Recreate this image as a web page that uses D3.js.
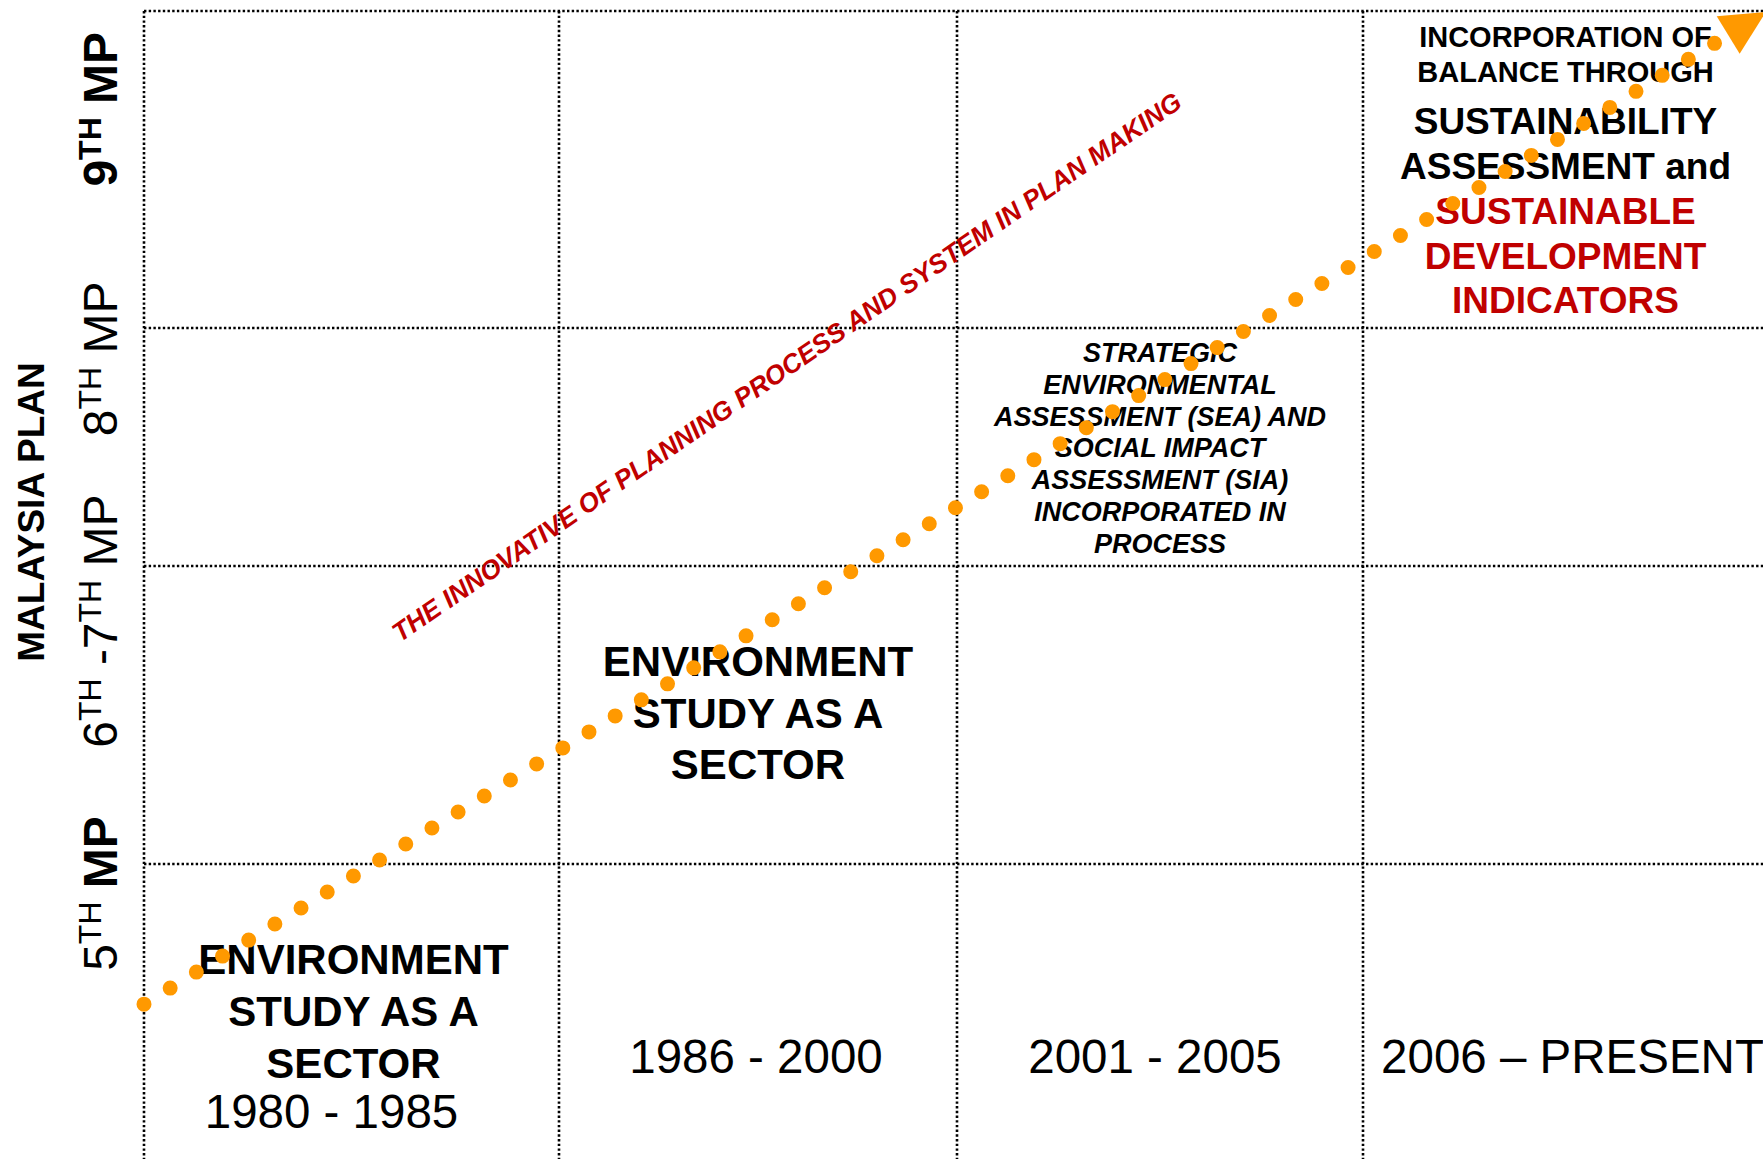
<!DOCTYPE html>
<html lang="en">
<head>
<meta charset="utf-8">
<title>Malaysia Plan - environment in plan making</title>
<script src="https://d3js.org/d3.v7.min.js"></script>
<style>
  body { margin: 0; background: #fff; }
  svg { display: block; font-family: "Liberation Sans", Arial, sans-serif; }
  .grid { stroke: #000; stroke-width: 2.6; stroke-dasharray: 2.4 2.3; fill: none; }
  .bold { font-weight: bold; }
</style>
</head>
<body>
<div id="chart"></div>
<script>
// periods (columns) and Malaysia plans (rows, bottom one first)
var periods = ['1980 - 1985', '1986 - 2000', '2001 - 2005', '2006 \u2013 PRESENT'];
var plans = [
  ['5', 'TH', ' MP'],
  ['6', 'TH', ' -7', 'TH', ' MP'],
  ['8', 'TH', ' MP'],
  ['9', 'TH', ' MP']
];
var sectorText = ['ENVIRONMENT', 'STUDY AS A', 'SECTOR'];
var seaText = ['STRATEGIC', 'ENVIRONMENTAL', 'ASSESSMENT (SEA) AND', 'SOCIAL IMPACT',
               'ASSESSMENT (SIA)', 'INCORPORATED IN', 'PROCESS'];
var balanceText = ['INCORPORATION OF', 'BALANCE THROUGH'];
var assessText = ['SUSTAINABILITY', 'ASSESSMENT and'];
var indicatorText = ['SUSTAINABLE', 'DEVELOPMENT', 'INDICATORS'];
var trendText = 'THE INNOVATIVE OF PLANNING PROCESS AND SYSTEM IN PLAN MAKING';
// progression arrow, start and end in column / row units
var trend = [{col: 0, row: 0.525}, {col: 3.868, row: 3.898}];

var width = 1763, height = 1159;
var red = '#c00000', orange = '#ff9900';

// uneven grid: polylinear scales over column / row index
var x = d3.scaleLinear().domain([0, 1, 2, 3, 4]).range([144, 559, 957, 1363, 1768]);
var y = d3.scaleLinear().domain([0, 1, 2, 3, 4]).range([1159, 864, 566, 328, 11]);

var svg = d3.select('#chart').append('svg')
    .attr('width', width)
    .attr('height', height);

// grid
svg.selectAll('.vline')
   .data(d3.range(periods.length))
   .enter().append('line')
   .attr('class', 'grid')
   .attr('x1', d => x(d)).attr('x2', d => x(d))
   .attr('y1', y(plans.length)).attr('y2', y(0));
svg.selectAll('.hline')
   .data(d3.range(1, plans.length + 1))
   .enter().append('line')
   .attr('class', 'grid')
   .attr('x1', x(0)).attr('x2', x(periods.length))
   .attr('y1', d => y(d)).attr('y2', d => y(d));

// left labels
svg.append('text')
   .attr('class', 'bold')
   .attr('transform', 'translate(44,512) rotate(-90)')
   .attr('text-anchor', 'middle')
   .style('font-size', '37px')
   .text('MALAYSIA PLAN');

var labelRow = [0.9, 1.815, 2.87, 3.69];   // label centres in row units
plans.forEach(function(parts, i){
    var t = svg.append('text')
       .attr('transform', 'translate(117,' + y(labelRow[i]) + ') rotate(-90)')
       .attr('text-anchor', 'middle')
       .style('font-size', '48px');
    parts.forEach(function(p, j){
        var sup = p === 'TH';
        var ts = t.append('tspan').text(p);
        if (sup) ts.style('font-size', '32px').attr('dy', -16);
        else if (j > 0) ts.attr('dy', 16);
        if (i === 3 || (i === 0 && j === 2)) ts.attr('class', 'bold');
    });
});

// helper for stacked centred lines
function block(lines, cx, y0, step, size, opts){
    opts = opts || {};
    svg.selectAll(null)
       .data(lines)
       .enter().append('text')
       .attr('x', cx)
       .attr('y', (d, i) => y0 + i * step)
       .attr('text-anchor', 'middle')
       .style('font-size', size + 'px')
       .style('font-weight', opts.weight || 'bold')
       .style('font-style', opts.style || 'normal')
       .attr('fill', opts.fill || '#000')
       .text(d => d);
}

block(sectorText, x(0.5) + 2, 974, 52, 42);
block(sectorText, x(1.5), 676, 51.5, 42);
block(seaText, x(2.5), 362, 31.8, 27, {style: 'italic'});
block(balanceText, x(3.5), 47, 35, 29);
block(assessText, x(3.5), 134, 44.5, 37);
block(indicatorText, x(3.5), 224, 44.5, 37, {fill: red});

// period labels
var periodDx = [-20, -2, -5, 7];
svg.selectAll('.period')
   .data(periods)
   .enter().append('text')
   .attr('class', 'period')
   .attr('x', (d, i) => x(i + 0.5) + periodDx[i])
   .attr('y', (d, i) => i === 0 ? 1128 : 1073)
   .attr('text-anchor', 'middle')
   .style('font-size', '47.5px')
   .text(d => d);

// diagonal caption
svg.append('text')
   .attr('transform', 'translate(' + x(1.585) + ',' + y(2.805) + ') rotate(-34.4)')
   .attr('text-anchor', 'middle')
   .style('font-size', '26.4px')
   .style('font-weight', 'bold')
   .style('font-style', 'italic')
   .attr('fill', red)
   .text(trendText);

// dotted progression line with arrow head
var p0 = [x(trend[0].col), y(trend[0].row)],
    p1 = [x(trend[1].col), y(trend[1].row)];
var len = Math.hypot(p1[0] - p0[0], p1[1] - p0[1]);
var gap = len / Math.round(len / 30.6);   // a dot on both ends

var line = d3.line().x(d => x(d.col)).y(d => y(d.row));
svg.append('path')
   .attr('d', line(trend))
   .attr('fill', 'none')
   .attr('stroke', orange)
   .attr('stroke-width', 15)
   .attr('stroke-linecap', 'round')
   .attr('stroke-dasharray', '0 ' + gap);

var d = [(p1[0] - p0[0]) / len, (p1[1] - p0[1]) / len],
    n = [-d[1], d[0]];
var base = [p1[0] + d[0] * 16, p1[1] + d[1] * 16];
svg.append('path')
   .attr('d', 'M' + (base[0] + n[0] * 22) + ',' + (base[1] + n[1] * 22) +
              'L' + (base[0] - n[0] * 22) + ',' + (base[1] - n[1] * 22) +
              'L' + (base[0] + d[0] * 44) + ',' + (base[1] + d[1] * 44) + 'Z')
   .attr('fill', orange);
</script>
</body>
</html>
